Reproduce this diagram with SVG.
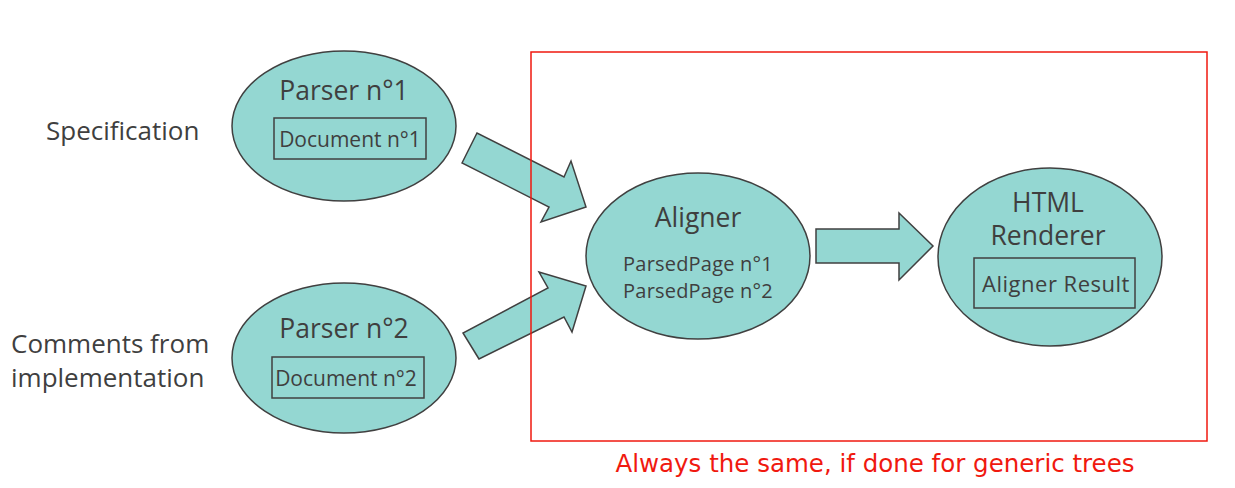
<svg xmlns="http://www.w3.org/2000/svg" width="1235" height="488" viewBox="0 0 1235 488">
<defs>
<style>
.node{fill:#94d7d2;stroke:#404040;stroke-width:1.5}
.box{fill:none;stroke:#404040;stroke-width:1.5}
.arrow{fill:#94d7d2;stroke:#404040;stroke-width:1.5;stroke-linejoin:miter}
text{font-family:"Open Sans","Noto Sans",sans-serif;fill:#3f3f3f}
.t1{font-size:26.5px;text-anchor:middle}
.t2{font-size:20px;text-anchor:middle;letter-spacing:0.2px}
.t3{font-size:21px;text-anchor:middle}
.t4{font-size:22px;text-anchor:middle;letter-spacing:0.5px}
.lbl{font-size:26px}
.red{font-family:"DejaVu Sans",sans-serif;font-size:24.5px;fill:#f0190f;text-anchor:middle}
</style>
</defs>
<rect x="0" y="0" width="1235" height="488" fill="#ffffff"/>
<g id="label-spec"><text class="lbl" x="46" y="140">Specification</text></g>
<g id="label-comments"><text class="lbl" x="11" y="353">Comments from</text><text class="lbl" x="11" y="387">implementation</text></g>
<g id="parser1">
<ellipse class="node" cx="344" cy="126" rx="112" ry="75"/>
<text class="t1" x="344" y="100">Parser n°1</text>
<rect class="box" x="274" y="118" width="152" height="41"/>
<text class="t3" x="350" y="147">Document n°1</text>
</g>
<g id="parser2">
<ellipse class="node" cx="344" cy="358" rx="112" ry="75"/>
<text class="t1" x="344" y="338">Parser n°2</text>
<rect class="box" x="272" y="357" width="152" height="41"/>
<text class="t3" x="346" y="386">Document n°2</text>
</g>
<g id="aligner">
<ellipse class="node" cx="698" cy="256" rx="112" ry="83"/>
<text class="t1" x="698" y="227">Aligner</text>
<text class="t2" x="698" y="271">ParsedPage n°1</text>
<text class="t2" x="698" y="298">ParsedPage n°2</text>
</g>
<g id="renderer">
<ellipse class="node" cx="1050" cy="257" rx="112" ry="89"/>
<text class="t1" x="1048" y="212">HTML</text>
<text class="t1" x="1048" y="245">Renderer</text>
<rect class="box" x="974" y="258" width="161" height="50"/>
<text class="t4" x="1056" y="292">Aligner Result</text>
</g>
<g id="connectors">
<polygon class="arrow" points="462,163 477,133 564,177 571,161 586,207 541,222 549,207"/>
<polygon class="arrow" points="479,359 463,333 548,288 539,272 586,286 572,332 564,317"/>
<polygon class="arrow" points="816,229 899,229 899,213 933,246 899,280 899,263 816,263"/>
</g>
<g id="frame">
<rect x="531" y="52" width="676" height="389" fill="none" stroke="#f0190f" stroke-width="1.5"/>
<text class="red" x="875" y="472">Always the same, if done for generic trees</text>
</g>
</svg>
